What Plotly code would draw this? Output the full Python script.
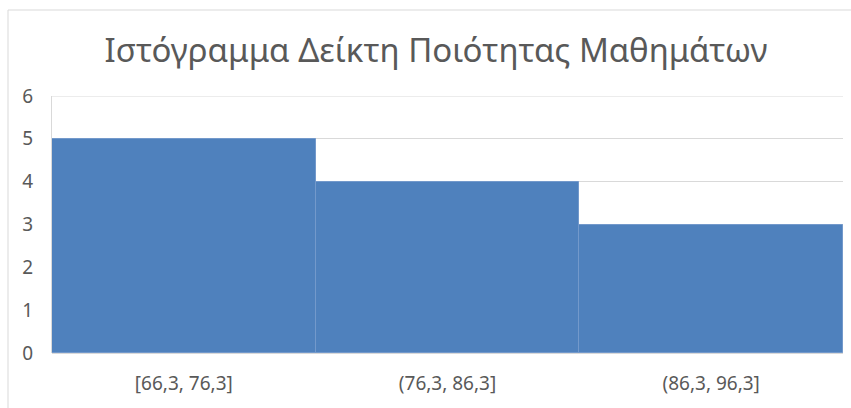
import plotly.graph_objects as go

categories = ["[66,3, 76,3]", "(76,3, 86,3]", "(86,3, 96,3]"]
counts = [5, 4, 3]
y_ticks = [0, 1, 2, 3, 4, 5, 6]
title_text = "Ιστόγραμμα Δείκτη Ποιότητας Μαθημάτων"

W, H = 851, 408
L, R, T, B = 52, 8, 96, 55

fig = go.Figure()
fig.add_trace(go.Bar(
    x=categories, y=counts,
    marker=dict(color="#4F81BD", line=dict(color="#7399CB", width=1)),
    hoverinfo="x+y",
))

pw = W - L - R
ph = H - T - B
bx = (8 - L) / pw
ty = (H - B - 10) / ph

fig.update_layout(
    width=W, height=H,
    margin=dict(l=L, r=R, t=T, b=B),
    paper_bgcolor="white", plot_bgcolor="white",
    bargap=0,
    showlegend=False,
    font=dict(family="Noto Sans, Open Sans, sans-serif", color="#595959", size=19),
    title=dict(text=title_text, x=436 / W, xanchor="center", y=1 - 50 / H, yanchor="middle",
               font=dict(size=33, color="#595959", family="Noto Sans, Open Sans, sans-serif")),
    xaxis=dict(showgrid=False, showline=False, zeroline=False, ticks="",
               ticklabelstandoff=17,
               tickfont=dict(size=19, color="#595959")),
    yaxis=dict(range=[y_ticks[0], y_ticks[-1]], tickvals=y_ticks, showgrid=True,
               gridcolor="#D9D9D9", gridwidth=1,
               zeroline=True, zerolinecolor="#D9D9D9", showline=True, linecolor="#D9D9D9",
               ticks="", ticklabelstandoff=14, tickfont=dict(size=19, color="#595959")),
    shapes=[
        dict(type="line", xref="paper", yref="paper", x0=bx, x1=bx, y0=-1, y1=ty,
             line=dict(color="#D9D9D9", width=1)),
        dict(type="line", xref="paper", yref="paper", x0=bx, x1=1.5, y0=ty, y1=ty,
             line=dict(color="#D9D9D9", width=1)),
        dict(type="line", xref="paper", yref="y", x0=0, x1=1, y0=y_ticks[-1], y1=y_ticks[-1],
             line=dict(color="#D9D9D9", width=1), layer="below"),
    ],
)

fig.write_html("out.html", config={"displayModeBar": False},
               post_script="document.body.style.margin='0px';")
